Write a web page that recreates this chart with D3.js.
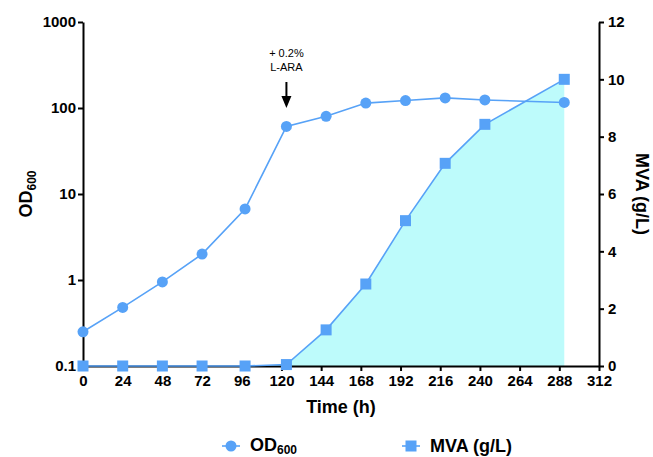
<!DOCTYPE html>
<html>
<head>
<meta charset="utf-8">
<script src="https://cdn.jsdelivr.net/npm/d3@7"></script>
<style>
  body { margin: 0; background: #fff; }
  text { font-family: "Liberation Sans", Arial, sans-serif; }
</style>
</head>
<body>
<div id="chart"></div>
<script>
// growth (OD600) and mevalonate titre over time
var times = [0, 24, 48, 72, 98, 123, 147, 171, 195, 219, 243, 291];
var od600 = [0.25, 0.48, 0.95, 2.0, 6.7, 61, 80, 114, 122, 131, 124, 116];
var mva = [0, 0, 0, 0, 0, 0.05, 1.26, 2.86, 5.07, 7.07, 8.43, 10.0];
var xTicks = [0, 24, 48, 72, 96, 120, 144, 168, 192, 216, 240, 264, 288, 312];
var odTicks = [0.1, 1, 10, 100, 1000];
var mvaTicks = [0, 2, 4, 6, 8, 10, 12];
var inductionTime = 123;

var svgWidth = 653;
var svgHeight = 457;
var margin = { top: 22, right: 54, bottom: 91, left: 83 };
var width = svgWidth - margin.left - margin.right;
var height = svgHeight - margin.top - margin.bottom;

var blue = "#57a2f7";

var svg = d3.select("#chart")
  .append("svg")
  .attr("width", svgWidth)
  .attr("height", svgHeight);

var chartGroup = svg.append("g")
  .attr("transform", `translate(${margin.left}, ${margin.top})`);

var xScale = d3.scaleLinear().domain([0, 312]).range([0, width]);
var yLeft = d3.scaleLog().domain([0.1, 1000]).range([height, 0]);
var yRight = d3.scaleLinear().domain([0, 12]).range([height, 0]);

var odData = times.map((t, i) => ({ t: t, v: od600[i] }));
var mvaData = times.map((t, i) => ({ t: t, v: mva[i] }));

// shaded area under MVA
var area = d3.area()
  .x(d => xScale(d.t))
  .y0(height)
  .y1(d => yRight(d.v));
chartGroup.append("path")
  .datum(mvaData)
  .attr("d", area)
  .attr("fill", "#bdfbfb");

// axes
var bottomAxis = d3.axisBottom(xScale).tickValues(xTicks).tickSize(5).tickPadding(4).tickSizeOuter(0);
var leftAxis = d3.axisLeft(yLeft).tickValues(odTicks).tickFormat(d => String(d)).tickSize(5).tickPadding(2).tickSizeOuter(0);
var rightAxis = d3.axisRight(yRight).tickValues(mvaTicks).tickSize(5).tickPadding(4).tickSizeOuter(0);

function styleAxis(g) {
  g.selectAll("path, line").attr("stroke", "#000").attr("stroke-width", 2);
  g.selectAll("text")
    .attr("fill", "#000")
    .style("font-size", "15px")
    .style("font-weight", "bold")
    .style("font-family", "'Liberation Sans', Arial, sans-serif");
}

chartGroup.append("g")
  .attr("transform", `translate(0, ${height})`)
  .call(bottomAxis)
  .call(styleAxis);

chartGroup.append("g")
  .call(leftAxis)
  .call(styleAxis);

chartGroup.append("g")
  .attr("transform", `translate(${width}, 0)`)
  .call(rightAxis)
  .call(styleAxis);

// lines
var odLine = d3.line().x(d => xScale(d.t)).y(d => yLeft(d.v));
var mvaLine = d3.line().x(d => xScale(d.t)).y(d => yRight(d.v));

chartGroup.append("path")
  .datum(mvaData)
  .attr("d", mvaLine)
  .attr("fill", "none")
  .attr("stroke", blue)
  .attr("stroke-width", 1.6);

chartGroup.append("path")
  .datum(odData)
  .attr("d", odLine)
  .attr("fill", "none")
  .attr("stroke", blue)
  .attr("stroke-width", 1.6);

// markers
chartGroup.selectAll(".mva-pt")
  .data(mvaData)
  .enter()
  .append("rect")
  .attr("class", "mva-pt")
  .attr("x", d => xScale(d.t) - 5.5)
  .attr("y", d => yRight(d.v) - 5.5)
  .attr("width", 11)
  .attr("height", 11)
  .attr("fill", blue);

chartGroup.selectAll(".od-pt")
  .data(odData)
  .enter()
  .append("circle")
  .attr("class", "od-pt")
  .attr("cx", d => xScale(d.t))
  .attr("cy", d => yLeft(d.v))
  .attr("r", 5.5)
  .attr("fill", blue);

// induction annotation
var ax = xScale(inductionTime);
chartGroup.append("text")
  .attr("x", ax).attr("y", 35)
  .attr("text-anchor", "middle")
  .style("font-size", "11px")
  .text("+ 0.2%");
chartGroup.append("text")
  .attr("x", ax).attr("y", 49)
  .attr("text-anchor", "middle")
  .style("font-size", "11px")
  .text("L-ARA");
chartGroup.append("line")
  .attr("x1", ax).attr("x2", ax)
  .attr("y1", 60).attr("y2", 76)
  .attr("stroke", "#000")
  .attr("stroke-width", 2);
chartGroup.append("path")
  .attr("d", `M${ax - 5},${74} L${ax + 5},${74} L${ax},${86} Z`)
  .attr("fill", "#000");

// axis titles
svg.append("text")
  .attr("transform", `translate(32, ${margin.top + height / 2}) rotate(-90)`)
  .attr("text-anchor", "middle")
  .style("font-size", "18px")
  .style("font-weight", "bold")
  .html('OD<tspan dy="4" font-size="12px">600</tspan>');

svg.append("text")
  .attr("transform", `translate(636, ${margin.top + height / 2}) rotate(90)`)
  .attr("text-anchor", "middle")
  .style("font-size", "18px")
  .style("font-weight", "bold")
  .text("MVA (g/L)");

svg.append("text")
  .attr("x", margin.left + width / 2)
  .attr("y", 413)
  .attr("text-anchor", "middle")
  .style("font-size", "18px")
  .style("font-weight", "bold")
  .text("Time (h)");

// legend
var legend = svg.append("g");
legend.append("line")
  .attr("x1", 222).attr("x2", 240).attr("y1", 446).attr("y2", 446)
  .attr("stroke", blue).attr("stroke-width", 1.6);
legend.append("circle")
  .attr("cx", 231).attr("cy", 446).attr("r", 5.5).attr("fill", blue);
legend.append("text")
  .attr("x", 250).attr("y", 451)
  .style("font-size", "18px")
  .style("font-weight", "bold")
  .html('OD<tspan dy="3" font-size="12px">600</tspan>');

legend.append("line")
  .attr("x1", 402).attr("x2", 420).attr("y1", 446).attr("y2", 446)
  .attr("stroke", blue).attr("stroke-width", 1.6);
legend.append("rect")
  .attr("x", 405.5).attr("y", 440.5).attr("width", 11).attr("height", 11).attr("fill", blue);
legend.append("text")
  .attr("x", 430).attr("y", 452)
  .style("font-size", "18px")
  .style("font-weight", "bold")
  .text("MVA (g/L)");
</script>
</body>
</html>
